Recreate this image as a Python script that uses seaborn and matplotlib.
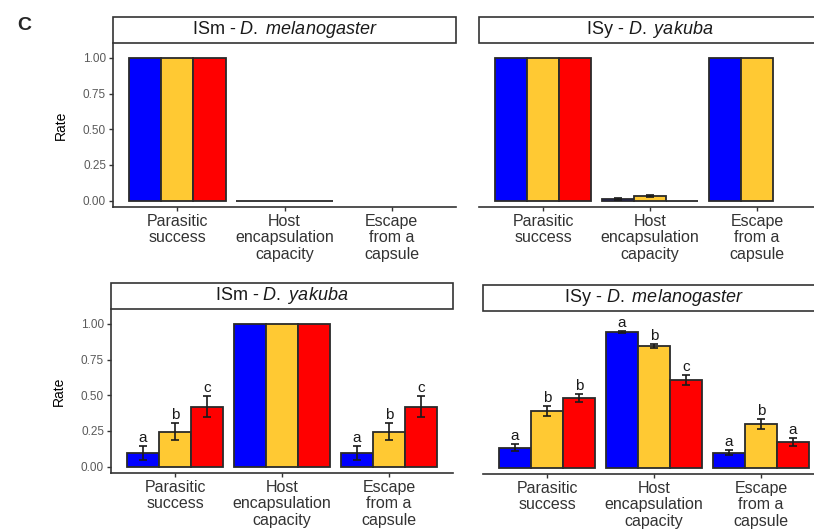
import matplotlib
matplotlib.use("Agg")
import matplotlib.pyplot as plt
from matplotlib.patches import Rectangle
import numpy as np
import pandas as pd
import seaborn as sns

nan = np.nan

# ---------------------------------------------------------------------------
# Data
# ---------------------------------------------------------------------------
measures = ["Parasitic\nsuccess", "Host\nencapsulation\ncapacity", "Escape\nfrom a\ncapsule"]
treatments = ["T1", "T2", "T3"]
colors = ["#0000FF", "#FFC933", "#FF0000"]

# rows = measures, columns = treatments
ism_mel_rate = [[1.0, 1.0, 1.0], [0.0, 0.0, 0.0], [nan, nan, nan]]
ism_mel_err = [[nan, nan, nan], [nan, nan, nan], [nan, nan, nan]]
ism_mel_letters = [["", "", ""], ["", "", ""], ["", "", ""]]

isy_yak_rate = [[1.0, 1.0, 1.0], [0.012, 0.03, 0.0], [1.0, 1.0, nan]]
isy_yak_err = [[nan, nan, nan], [0.008, 0.008, nan], [nan, nan, nan]]
isy_yak_letters = [["", "", ""], ["", "", ""], ["", "", ""]]

ism_yak_rate = [[0.095, 0.245, 0.42], [1.0, 1.0, 1.0], [0.095, 0.245, 0.42]]
ism_yak_err = [[0.05, 0.058, 0.075], [nan, nan, nan], [0.05, 0.058, 0.075]]
ism_yak_letters = [["a", "b", "c"], ["", "", ""], ["a", "b", "c"]]

isy_mel_rate = [[0.141, 0.40, 0.49], [0.955, 0.857, 0.619], [0.106, 0.31, 0.18]]
isy_mel_err = [[0.023, 0.033, 0.03], [0.007, 0.012, 0.033], [0.02, 0.035, 0.028]]
isy_mel_letters = [["a", "b", "b"], ["a", "b", "c"], ["a", "b", "a"]]

panel_titles = [
    r"ISm - $\it{D.\ melanogaster}$",
    r"ISy - $\it{D.\ yakuba}$",
    r"ISm - $\it{D.\ yakuba}$",
    r"ISy - $\it{D.\ melanogaster}$",
]
yticks = [0.0, 0.25, 0.50, 0.75, 1.00]

# ---------------------------------------------------------------------------
# Style
# ---------------------------------------------------------------------------
sns.set_theme(style="ticks")
plt.rcParams["font.family"] = ["Liberation Sans", "DejaVu Sans"]
plt.rcParams["mathtext.fontset"] = "custom"
plt.rcParams["mathtext.rm"] = "Liberation Sans"
plt.rcParams["mathtext.it"] = "Liberation Sans:italic"

W, H = 814, 532
DARK = "#333333"
BAR_W = 0.9


def px_rect(x0, y0, x1, y1):
    """Pixel box (top-left origin) -> figure fraction rect."""
    return [x0 / W, 1 - y1 / H, (x1 - x0) / W, (y1 - y0) / H]


def draw_panel(ax, title, rate, err, letters, strip_px, show_y):
    rows = []
    for i, m in enumerate(measures):
        for j, t in enumerate(treatments):
            if not np.isnan(rate[i][j]):
                rows.append({"measure": m, "treatment": t, "rate": rate[i][j]})
    df = pd.DataFrame(rows)

    sns.barplot(
        data=df, x="measure", y="rate", hue="treatment",
        order=measures, hue_order=treatments, palette=colors,
        width=BAR_W, edgecolor="#2a2a2a", linewidth=1.3,
        errorbar=None, legend=False, saturation=1, ax=ax,
    )

    step = BAR_W / len(treatments)
    for i in range(len(measures)):
        for j in range(len(treatments)):
            x = i + (j - 1) * step
            v, e, lab = rate[i][j], err[i][j], letters[i][j]
            if np.isnan(v):
                continue
            top = v
            if not np.isnan(e):
                ax.errorbar(x, v, yerr=e, fmt="none", ecolor="#1a1a1a",
                            elinewidth=1.2, capsize=3, capthick=1.2, zorder=5)
                top = v + e
            if lab:
                ax.text(x, top + 0.008, lab, ha="center", va="bottom",
                        fontsize=11, color="#1a1a1a")

    ax.set_xlim(-0.6, 2.6)
    ax.set_ylim(-0.045, 1.105)
    ax.set_xlabel("")
    ax.tick_params(axis="x", length=3, width=1.0, color=DARK, pad=2,
                   labelsize=11.5, labelcolor=DARK)
    for lbl in ax.get_xticklabels():
        lbl.set_linespacing(1.12)
    ax.spines["top"].set_visible(False)
    ax.spines["right"].set_visible(False)
    ax.spines["bottom"].set_color(DARK)
    ax.spines["bottom"].set_linewidth(1.2)

    if show_y:
        ax.set_yticks(yticks)
        ax.set_yticklabels([f"{v:.2f}" for v in yticks])
        ax.tick_params(axis="y", length=3, width=1.0, color=DARK, pad=2,
                       labelsize=8.5, labelcolor="#5a5a5a")
        ax.spines["left"].set_color(DARK)
        ax.spines["left"].set_linewidth(1.2)
        ax.set_ylabel("Rate", fontsize=10, color="black", labelpad=11)
    else:
        ax.set_yticks([])
        ax.set_ylabel("")
        ax.spines["left"].set_visible(False)

    # facet strip
    fig = ax.figure
    sx0, sy0, sx1, sy1 = strip_px
    fig.patches.append(Rectangle(
        (sx0 / W, 1 - sy1 / H), (sx1 - sx0) / W, (sy1 - sy0) / H,
        transform=fig.transFigure, facecolor="white", edgecolor=DARK,
        linewidth=1.2, zorder=3))
    fig.text((sx0 + sx1) / 2 / W, 1 - (sy0 + sy1) / 2 / H, title,
             ha="center", va="center", fontsize=13, color="#1a1a1a", zorder=4)


fig = plt.figure(figsize=(W / 100, H / 100), dpi=100)

panels = [
    (px_rect(113, 43, 456, 207), (113, 17, 456, 43), ism_mel_rate, ism_mel_err, ism_mel_letters, True),
    (px_rect(479, 43, 821, 207), (479, 17, 821, 43), isy_yak_rate, isy_yak_err, isy_yak_letters, False),
    (px_rect(111, 309, 453, 473), (111, 283, 453, 309), ism_yak_rate, ism_yak_err, ism_yak_letters, True),
    (px_rect(483, 311, 825, 474), (483, 285, 825, 311), isy_mel_rate, isy_mel_err, isy_mel_letters, False),
]

for (rect, strip, rate, err, letters, show_y), title in zip(panels, panel_titles):
    ax = fig.add_axes(rect)
    draw_panel(ax, title, rate, err, letters, strip, show_y)

fig.text(17 / W, 1 - 30 / H, "C", fontsize=14, fontweight="heavy",
         ha="left", va="baseline")

fig.savefig("out.png", dpi=100)
plt.close(fig)
